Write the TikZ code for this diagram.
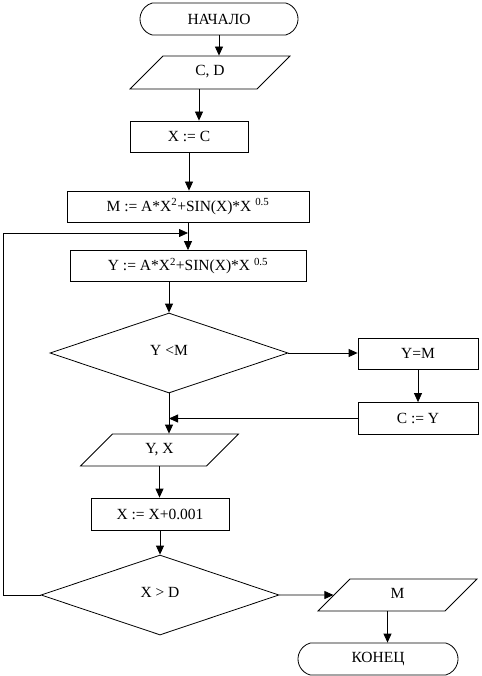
\documentclass[tikz,border=0pt]{standalone}
\usepackage{fontspec}
\setmainfont{Liberation Serif}
\usetikzlibrary{shapes.geometric,shapes.misc,arrows.meta,calc}
\begin{document}
\begin{tikzpicture}[x=1pt,y=-1pt,
  every node/.style={font=\fontsize{15.5}{18}\selectfont, inner sep=0pt, line width=0.8pt},
  lines/.style={line width=0.8pt},
  arr/.style={lines,-{Triangle[length=9pt,width=8pt]}},
  term/.style={draw, rounded rectangle, rounded rectangle arc length=150, minimum width=#1, minimum height=32pt},
  proc/.style={draw, rectangle, minimum width=#1, minimum height=31pt},
  io/.style={draw, trapezium, trapezium left angle=45, trapezium right angle=135, trapezium stretches body,
    text height=11pt, text depth=4pt, inner ysep=8.5pt, inner xsep=0pt, minimum width=#1, minimum height=32pt},
  dec/.style={draw, diamond, minimum width=238pt, minimum height=80pt},
]
\useasboundingbox (0,0) rectangle (481,676);
\node[term=158pt] (start) at (219,19) {НАЧАЛО};
\node[io=160pt, inner ysep=9pt, minimum height=33pt] (cd) at (210,72.5) {C, D};
\node[proc=118pt] (xc) at (189,136.5) {X := C};
\node[proc=242pt] (m) at (188,206.5) {M := A*X\textsuperscript{2}+SIN(X)*X \textsuperscript{0.5}};
\node[proc=236pt] (yb) at (188,266) {Y := A*X\textsuperscript{2}+SIN(X)*X \textsuperscript{0.5}};
\node[dec] (d1) at (169,353) {\raisebox{6pt}{Y <M}};
\node[proc=120pt] (ym) at (418,353.5) {Y=M};
\node[proc=120pt, minimum height=32pt] (cy) at (418,418.5) {C := Y};
\node[io=158pt] (yx) at (159.5,450) {Y, X};
\node[proc=138pt, minimum height=32pt] (xx) at (160,514) {X := X+0.001};
\node[dec] (d2) at (160,595) {\raisebox{6pt}{X > D}};
\node[io=159pt] (mo) at (397.5,595) {M};
\node[term=160pt] (end) at (378,659) {КОНЕЦ};
\coordinate (loop) at (3,233);

\draw[arr] (start.south) -- (start.south |- cd.north);
\draw[arr] ([xshift=-11pt]cd.south) -- ([xshift=-11pt]cd.south |- xc.north);
\draw[arr] (xc.south) -- (xc.south |- m.north);
\draw[arr] (m.south) -- (m.south |- yb.north);
\draw[arr] (d2.west) -| (loop) -- (loop -| m.south);
\draw[arr] (d1.north |- yb.south) -- (d1.north);
\draw[arr] (d1.east) -- (d1.east -| ym.west);
\draw[arr] (ym.south) -- (cy.north);
\draw[arr] (cy.west) -- (cy.west -| d1.south);
\draw[arr] (d1.south) -- (d1.south |- yx.north);
\draw[arr] (yx.south) -- (yx.south |- xx.north);
\draw[arr] (xx.south) -- (d2.north);
\draw[arr] (d2.east) -- (mo.west);
\draw[arr] ([xshift=-10pt]mo.south) -- ([xshift=-10pt]mo.south |- end.north);
\end{tikzpicture}
\end{document}
